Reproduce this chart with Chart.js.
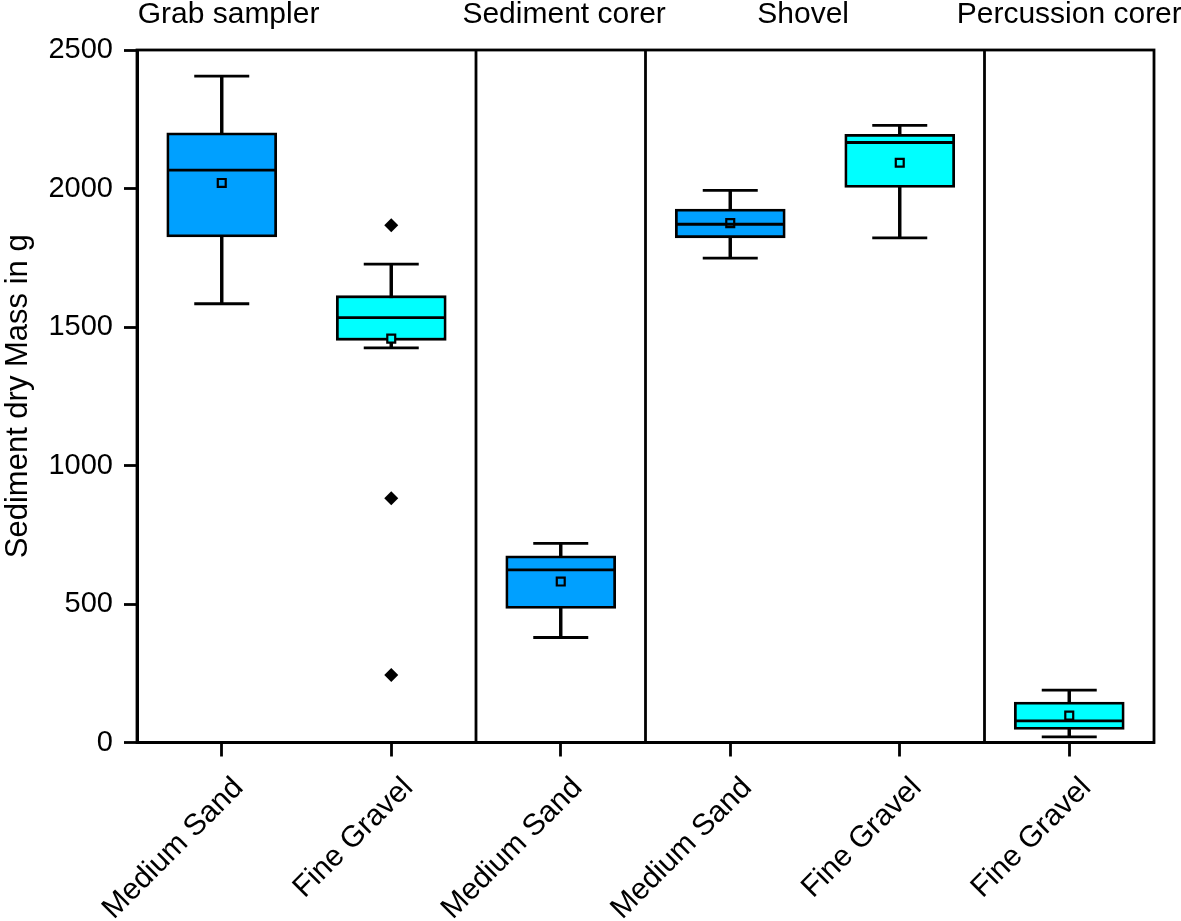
<!DOCTYPE html>
<html><head><meta charset="utf-8">
<script src="https://cdn.jsdelivr.net/npm/chart.js@4.4.1/dist/chart.umd.min.js"></script>
<style>html,body{margin:0;padding:0;background:#fff}#wrap{width:1181px;height:921px;position:relative}</style>
</head><body><div id="wrap"><canvas id="c" width="1181" height="921"></canvas></div>
<script>
// ---- data ----
const categories = ['Medium Sand', 'Fine Gravel', 'Medium Sand', 'Medium Sand', 'Fine Gravel', 'Fine Gravel'];
const groupNames = ['Grab sampler', 'Sediment corer', 'Shovel', 'Percussion corer'];
const groupSizes = [2, 1, 2, 1];
const mins    = [1584, 1425, 379, 1749, 1822, 20];
const q1s     = [1825, 1452, 484, 1822, 2004, 47];
const medians = [2066, 1534, 623, 1871, 2166, 78];
const q3s     = [2201, 1613, 674, 1926, 2196, 146];
const maxs    = [2406, 1727, 719, 1993, 2228, 189];
const means   = [2020, 1458, 581, 1875, 2093, 97];
const outliers = [[], [1867, 882, 244], [], [], [], []];
const yTicks = [0, 500, 1000, 1500, 2000, 2500];

// ---- styling ----
const FONT = '"Liberation Sans", Arial, Helvetica, sans-serif';
const BLUE = '#00A0FF', CYAN = '#00FFFF';
const boxColors = categories.map(c => c === 'Medium Sand' ? BLUE : CYAN);
const groupLabelAt = [0.04, 2.02, 3.43, 5.0];
const LW = 2.8;

const datasets = [];
datasets.push({
  type: 'bar', label: 'whisker', data: mins.map((m, i) => [m, maxs[i]]),
  backgroundColor: '#000', borderWidth: 0, barThickness: LW, grouped: false, order: 5
});
datasets.push({
  type: 'bar', label: 'box', data: q1s.map((q, i) => [q, q3s[i]]),
  backgroundColor: boxColors, borderColor: '#000', borderWidth: LW, borderSkipped: false,
  barThickness: 110, grouped: false, order: 4
});
const lineDs = (label, data, style, radius, extra) => Object.assign({
  type: 'line', label, data, showLine: false, pointStyle: style, pointRadius: radius,
  pointHoverRadius: radius, pointBorderColor: '#000', pointBorderWidth: LW,
  pointBackgroundColor: '#000', order: 1, clip: false
}, extra || {});
datasets.push(lineDs('min cap', mins, 'line', 27.5));
datasets.push(lineDs('max cap', maxs, 'line', 27.5));
datasets.push(lineDs('median', medians, 'line', 54));
datasets.push(lineDs('mean', means, 'rect', 5.6, {pointBorderWidth: 2.2, pointBackgroundColor: boxColors}));
const maxOut = Math.max(...outliers.map(o => o.length));
for (let k = 0; k < maxOut; k++) {
  datasets.push(lineDs('outlier ' + (k + 1), outliers.map(o => o[k] ?? null), 'rectRot', 7, {pointBorderWidth: 0}));
}

const framePlugin = {
  id: 'frame',
  afterDatasetsDraw(chart) {
    const {ctx, chartArea: a, scales: {x}} = chart;
    ctx.save();
    ctx.strokeStyle = '#000';
    ctx.lineWidth = LW;
    ctx.strokeRect(a.left, a.top, a.right - a.left, a.bottom - a.top);
    let acc = 0;
    for (let g = 0; g < groupSizes.length - 1; g++) {
      acc += groupSizes[g];
      const px = x.getPixelForValue(acc - 0.5);
      ctx.beginPath(); ctx.moveTo(px, a.top); ctx.lineTo(px, a.bottom); ctx.stroke();
    }
    ctx.font = '30px ' + FONT;
    ctx.fillStyle = '#000';
    ctx.textAlign = 'center';
    ctx.textBaseline = 'alphabetic';
    groupNames.forEach((n, i) => ctx.fillText(n, x.getPixelForValue(groupLabelAt[i]), 23));
    ctx.restore();
  }
};

new Chart(document.getElementById('c'), {
  data: { labels: categories, datasets },
  options: {
    responsive: false, animation: false, devicePixelRatio: 1,
    layout: { autoPadding: false, padding: { top: 50, right: 27, left: 0, bottom: 0 } },
    plugins: { legend: { display: false }, tooltip: { enabled: false } },
    scales: {
      x: {
        type: 'category', offset: true,
        grid: { display: true, offset: false, drawOnChartArea: false, drawTicks: true, tickLength: 14, tickWidth: LW, tickColor: '#000' },
        border: { display: true, color: '#000', width: 3 },
        ticks: { color: '#000', font: { family: FONT, size: 30 }, minRotation: 45, maxRotation: 45, autoSkip: false, padding: 14, labelOffset: 17 },
        afterFit(s) { s.height = 178.5; s.paddingLeft = 0; s.paddingRight = 0; }
      },
      y: {
        type: 'linear', min: 0, max: 2500,
        afterBuildTicks(s) { s.ticks = yTicks.map(v => ({ value: v })); },
        grid: { display: true, drawOnChartArea: false, drawTicks: true, tickLength: 13, tickWidth: LW, tickColor: '#000' },
        border: { display: true, color: '#000', width: 3 },
        ticks: { color: '#000', font: { family: FONT, size: 29 }, padding: 11, callback: v => String(v) },
        title: { display: true, text: 'Sediment dry Mass in g', color: '#000', font: { family: FONT, size: 31 }, padding: { top: 0, bottom: 0 } },
        afterFit(s) { s.width = 137; s.paddingTop = 0; s.paddingBottom = 0; }
      }
    }
  },
  plugins: [framePlugin]
});
</script>
</body></html>
